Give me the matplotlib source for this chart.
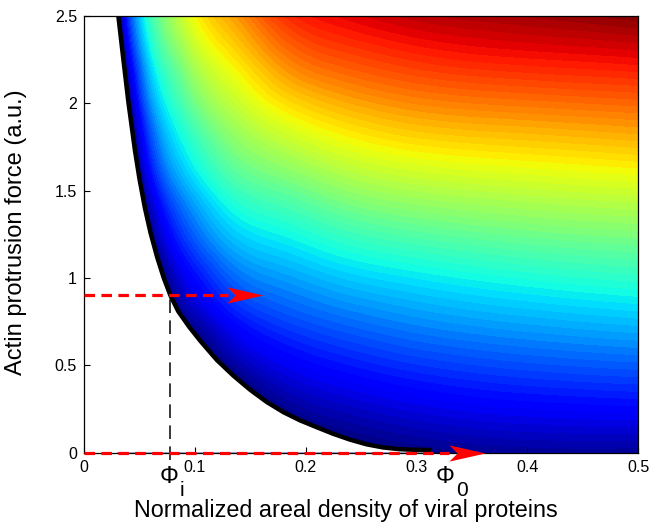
import numpy as np
import matplotlib.pyplot as plt
import matplotlib.tri as mtri
from matplotlib.path import Path

plt.rcParams['font.family'] = ['Liberation Sans', 'DejaVu Sans']

# grid where the colour field was read (x: areal density, y: force)
phi = [0.03, 0.04, 0.05, 0.06, 0.08, 0.10, 0.13, 0.17, 0.22, 0.30, 0.40, 0.50]
force = [0.0, 0.25, 0.5, 0.75, 1.0, 1.25, 1.5, 1.75, 2.0, 2.25, 2.5]

# colour value (0..1 of the jet scale), one list per phi column, bottom -> top
# (negative entries sit in the white region left of the boundary)
col_003 = [-0.91, -0.82, -0.74, -0.65, -0.56, -0.47, -0.39, -0.30, -0.21, -0.12, -0.035]
col_004 = [-0.72, -0.63, -0.54, -0.45, -0.36, -0.27, -0.18, -0.10, -0.01, 0.08, 0.17]
col_005 = [-0.52, -0.44, -0.36, -0.27, -0.19, -0.107, -0.023, 0.06, 0.143, 0.227, 0.31]
col_006 = [-0.45, -0.36, -0.27, -0.18, -0.09, 0.0, 0.087, 0.175, 0.26, 0.343, 0.42]
col_008 = [-0.32, -0.23, -0.14, -0.048, 0.044, 0.136, 0.228, 0.318, 0.397, 0.472, 0.545]
col_010 = [-0.26, -0.163, -0.066, 0.03, 0.126, 0.22, 0.312, 0.40, 0.484, 0.565, 0.643]
col_013 = [-0.20, -0.095, 0.01, 0.113, 0.213, 0.31, 0.403, 0.49, 0.572, 0.65, 0.73]
col_017 = [-0.10, -0.007, 0.085, 0.177, 0.268, 0.36, 0.457, 0.555, 0.652, 0.745, 0.835]
col_022 = [-0.04, 0.045, 0.13, 0.218, 0.308, 0.405, 0.507, 0.61, 0.713, 0.815, 0.90]
col_030 = [0.0, 0.085, 0.172, 0.26, 0.35, 0.452, 0.556, 0.66, 0.763, 0.86, 0.945]
col_040 = [0.02, 0.11, 0.20, 0.29, 0.383, 0.482, 0.581, 0.682, 0.785, 0.885, 0.97]
col_050 = [0.02, 0.12, 0.215, 0.31, 0.405, 0.50, 0.598, 0.70, 0.80, 0.90, 0.995]

# black boundary curve
bound_phi = [0.031, 0.035, 0.040, 0.046, 0.050, 0.055, 0.060, 0.066, 0.072, 0.078,
             0.085, 0.095, 0.105, 0.120, 0.135, 0.150, 0.165, 0.180, 0.195, 0.210,
             0.225, 0.240, 0.255, 0.270, 0.285, 0.300, 0.314]
bound_force = [2.5, 2.28, 2.01, 1.73, 1.57, 1.40, 1.26, 1.12, 1.00, 0.90,
               0.81, 0.72, 0.64, 0.53, 0.44, 0.36, 0.29, 0.232, 0.185, 0.146,
               0.108, 0.075, 0.048, 0.030, 0.020, 0.016, 0.015]

phi_i, force_i = 0.078, 0.90
phi_0 = 0.326
arrow_up = [0.0, 0.130, 0.160]    # dashed start, head back, head tip
arrow_low = [0.0, 0.329, 0.362]

fig = plt.figure(figsize=(6.62, 5.25), dpi=100)
ax = fig.add_axes([84 / 662, (525 - 452.7) / 525, (638 - 84) / 662, (452.7 - 16) / 525])

Z = np.array([col_003, col_004, col_005, col_006, col_008, col_010,
              col_013, col_017, col_022, col_030, col_040, col_050]).T
X, Y = np.meshgrid(phi, force)
tri = mtri.Triangulation(X.ravel(), Y.ravel())
tri_fine, z_fine = mtri.UniformTriRefiner(tri).refine_field(Z.ravel(), subdiv=4)
ax.tricontourf(tri_fine, z_fine, levels=np.linspace(0, 1.0, 64), cmap='jet',
               extend='both', zorder=1)

# white area left of the boundary
mask_x = [0] + bound_phi + [bound_phi[-1], 0]
mask_y = [2.5] + bound_force + [0, 0]
ax.fill(mask_x, mask_y, color='white', lw=0, zorder=1.5)
ax.plot(bound_phi, bound_force, color='k', lw=3.2, solid_capstyle='butt',
        solid_joinstyle='round', zorder=4)

# dashed guides
ax.plot([phi_i, phi_i], [-0.04, force_i], color='0.22', lw=1.4, ls=(0, (7, 3.8)),
        zorder=3, clip_on=False)
ax.plot(arrow_up[:2], [force_i, force_i], color='red', lw=2.3, ls=(0, (3.3, 2)),
        zorder=5, clip_on=False)
ax.plot(arrow_low[:2], [0, 0], color='red', lw=2.3, ls=(0, (3.3, 2)),
        zorder=5, clip_on=False)

head = Path([(1, 0), (-1, 0.45), (-0.55, 0), (-1, -0.45), (1, 0)],
            [Path.MOVETO, Path.LINETO, Path.LINETO, Path.LINETO, Path.CLOSEPOLY])
for a, yy in [(arrow_up, force_i), (arrow_low, 0)]:
    ax.plot((a[1] + a[2]) / 2, yy, marker=head, ms=26, color='red', mew=0,
            zorder=6, clip_on=False)

ax.set_xlim(0, 0.5)
ax.set_ylim(0, 2.5)
ax.set_xticks([0, 0.1, 0.2, 0.3, 0.4, 0.5])
ax.set_xticklabels(['0', '0.1', '0.2', '0.3', '0.4', '0.5'])
ax.set_yticks([0, 0.5, 1, 1.5, 2, 2.5])
ax.set_yticklabels(['0', '0.5', '1', '1.5', '2', '2.5'])
ax.tick_params(direction='in', length=4, width=0.8, labelsize=11.5, pad=5)
for s in ax.spines.values():
    s.set_linewidth(0.9)

ax.set_xlabel('Normalized areal density of viral proteins', fontsize=16.8)
ax.xaxis.set_label_coords(0.473, -0.105)
ax.set_ylabel('Actin protrusion force (a.u.)', fontsize=17)
ax.yaxis.set_label_coords(-0.103, 0.504)

# Phi labels under the axis
ax.annotate('Φ', (phi_i, 0), xytext=(-1, -17.5), textcoords='offset points',
            ha='center', va='center', fontsize=17)
ax.annotate('i', (phi_i, 0), xytext=(8.5, -27), textcoords='offset points',
            ha='center', va='center', fontsize=15)
ax.annotate('Φ', (phi_0, 0), xytext=(0, -17.5), textcoords='offset points',
            ha='center', va='center', fontsize=17)
ax.annotate('0', (phi_0, 0), xytext=(12, -27.5), textcoords='offset points',
            ha='center', va='center', fontsize=15)

fig.savefig('out.png', dpi=100)
